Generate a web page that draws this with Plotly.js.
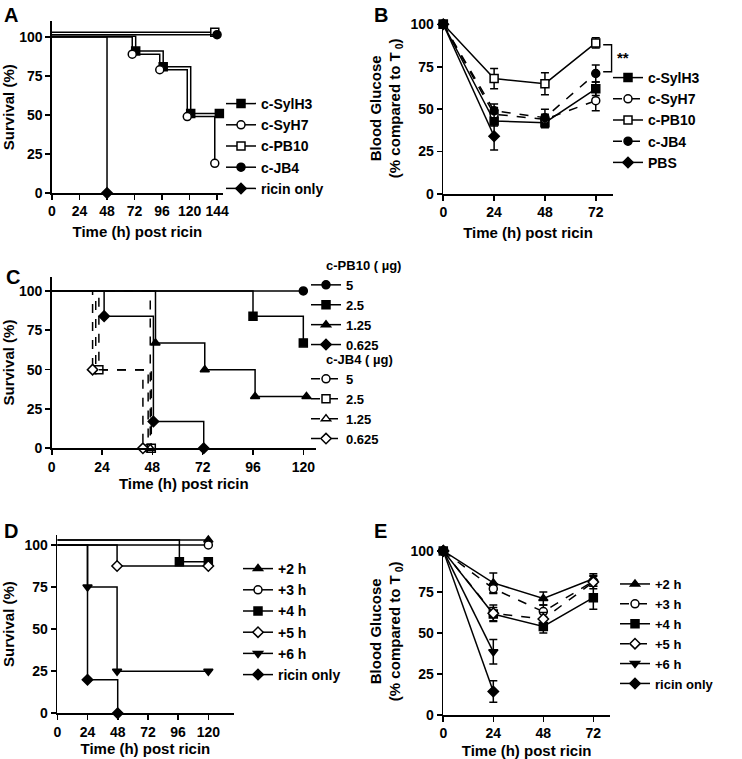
<!DOCTYPE html>
<html><head><meta charset="utf-8">
<script src="https://cdn.plot.ly/plotly-3.0.1.min.js"></script>
<style>html,body{margin:0;padding:0;background:#fff}#chart{width:742px;height:759px}</style>
</head><body><div id="chart"></div>
<script>
// ---------- Panel A: survival ----------
const A_SylH3_t = [0, 73, 97, 121, 146];
const A_SylH3_s = [100.5, 91, 81, 51, 51];
const A_SyH7_t = [0, 70, 94, 118, 142];
const A_SyH7_s = [100, 89, 79, 49, 19];
const A_PB10_t = [0, 142];
const A_PB10_s = [103, 103];
const A_JB4_t = [0, 144];
const A_JB4_s = [101.5, 101.5];
const A_ricin_t = [0, 48];
const A_ricin_s = [100, 0];

// ---------- Panel B: blood glucose ----------
const B_t = [0, 24, 48, 72];
const B_PBS_t = [0, 24];
const B_SylH3 = [100, 43, 42, 62];   const B_SylH3_err = [0, 3, 3, 4];
const B_SyH7 = [100, 47, 44, 55];    const B_SyH7_err = [0, 4, 3, 6];
const B_PB10 = [100, 68, 65, 89];    const B_PB10_err = [0, 6, 6.5, 3];
const B_JB4 = [100, 49, 45, 71];     const B_JB4_err = [0, 4, 5, 5];
const B_PBS = [100, 34];             const B_PBS_err = [0, 8];

// ---------- Panel C: dose survival ----------
const C_PB10_5_t = [0, 120];            const C_PB10_5_s = [100, 100];
const C_PB10_25_t = [0, 96, 120];       const C_PB10_25_s = [100, 84, 67];
const C_PB10_125_t = [0, 49.5, 73, 97, 121.5]; const C_PB10_125_s = [100, 67, 50, 33, 33];
const C_PB10_0625_t = [0, 25, 48.5, 72.5];     const C_PB10_0625_s = [100, 84, 17, 0];
const C_JB4_5_t = [0, 21, 46];          const C_JB4_5_s = [100, 50, 0];
const C_JB4_25_t = [0, 22.5, 47.5];     const C_JB4_25_s = [100, 50, 0];
const C_JB4_125_t = [0, 47];            const C_JB4_125_s = [100, 0];
const C_JB4_0625_t = [0, 19.5, 43.5];   const C_JB4_0625_s = [100, 50, 0];

// ---------- Panel D: time-of-treatment survival ----------
const D_2h_t = [0, 120];           const D_2h_s = [103, 103];
const D_3h_t = [0, 120];           const D_3h_s = [100, 100];
const D_4h_t = [0, 97, 120];       const D_4h_s = [103, 90, 90];
const D_5h_t = [0, 47.5, 120];     const D_5h_s = [100, 87.5, 87.5];
const D_6h_t = [0, 24, 47.5, 120]; const D_6h_s = [100, 75, 25, 25];
const D_ricin_t = [0, 24, 48];     const D_ricin_s = [100, 20, 0];

// ---------- Panel E: time-of-treatment glucose ----------
const E_t = [0, 24, 48, 72];
const E_short_t = [0, 24];
const E_2h = [100, 80.5, 71, 83];   const E_2h_err = [0, 6, 4, 3];
const E_3h = [100, 77, 63, 81.5];   const E_3h_err = [0, 3, 4, 3];
const E_4h = [100, 61.5, 54, 71.5]; const E_4h_err = [0, 4, 4, 7];
const E_5h = [100, 62, 58.5, 81];   const E_5h_err = [0, 5, 4, 4];
const E_6h = [100, 38.5];           const E_6h_err = [0, 7.5];
const E_ricin = [100, 14.3];        const E_ricin_err = [0, 6.5];

// significance bracket (panel B)
const B_brk_x = [75.5, 79.5];
const B_brk_y = [72, 88];

// ---------- helpers ----------
const W = 742, H = 759;
const fx = px => px / W;
const fy = py => 1 - py / H;
const FONT = 'Liberation Sans, Arial, sans-serif';
const NB = '\u00a0';

function mk(symbol, open, size) {
  return {symbol: symbol, size: size || 8, color: open ? 'white' : 'black',
          line: {color: 'black', width: 1.5}};
}
function surv(name, t, s, ax, lg, symbol, open, dash) {
  const sel = [];
  for (let i = 1; i < t.length; i++) sel.push(i);
  return {
    x: t, y: s, name: name, xaxis: 'x' + ax, yaxis: 'y' + ax, legend: lg,
    mode: 'lines+markers', cliponaxis: false,
    line: {shape: 'hv', color: 'black', width: 1.5, dash: dash || 'solid'},
    marker: mk(symbol, open),
    selectedpoints: sel, unselected: {marker: {opacity: 0}},
    hoverinfo: 'skip'
  };
}
function gluc(name, t, v, e, ax, lg, symbol, open, dash) {
  return {
    x: t, y: v, name: name, xaxis: 'x' + ax, yaxis: 'y' + ax, legend: lg,
    mode: 'lines+markers', cliponaxis: false,
    line: {color: 'black', width: 1.5, dash: dash || 'solid'},
    marker: mk(symbol, open),
    error_y: {type: 'data', array: e, visible: true, color: 'black', thickness: 1.5, width: 4},
    hoverinfo: 'skip'
  };
}
function axis(d0, d1, range, dtick, anchor, title, standoff) {
  return {
    domain: [d0, d1], range: range, dtick: dtick, tick0: 0, anchor: anchor,
    showline: true, linecolor: 'black', linewidth: 1.6,
    ticks: 'outside', ticklen: 5, tickwidth: 1.6, tickcolor: 'black',
    showgrid: false, zeroline: false, fixedrange: true, automargin: false,
    tickfont: {family: FONT, size: 14, weight: 'bold', color: 'black'},
    title: {text: title, standoff: standoff, font: {family: FONT, size: 15, weight: 'bold', color: 'black'}}
  };
}
function legend(px, py, fs, title) {
  const lg = {x: fx(px), y: fy(py), xanchor: 'left', yanchor: 'top', bgcolor: 'rgba(0,0,0,0)',
          font: {family: FONT, size: fs || 14, weight: 'bold', color: 'black'},
          itemwidth: 30, tracegroupgap: 0, traceorder: 'normal', itemclick: false, itemdoubleclick: false};
  if (title) lg.title = {text: title, side: 'top', font: {family: FONT, size: fs, weight: 'bold', color: 'black'}};
  return lg;
}

const PBT = NB + NB + NB + NB + NB + 'c-PB10 ( µg)';
const JBT = NB + NB + NB + NB + NB + 'c-JB4 ( µg)';
const traces = [
  // A
  surv('c-SylH3', A_SylH3_t, A_SylH3_s, '', 'legend', 'square', false),
  surv('c-SyH7', A_SyH7_t, A_SyH7_s, '', 'legend', 'circle', true),
  surv('c-PB10', A_PB10_t, A_PB10_s, '', 'legend', 'square', true),
  surv('c-JB4', A_JB4_t, A_JB4_s, '', 'legend', 'circle', false),
  surv('ricin only', A_ricin_t, A_ricin_s, '', 'legend', 'diamond', false),
  // B
  gluc('c-SylH3', B_t, B_SylH3, B_SylH3_err, '2', 'legend2', 'square', false),
  gluc('c-SyH7', B_t, B_SyH7, B_SyH7_err, '2', 'legend2', 'circle', true, 'dash'),
  gluc('c-PB10', B_t, B_PB10, B_PB10_err, '2', 'legend2', 'square', true),
  gluc('c-JB4', B_t, B_JB4, B_JB4_err, '2', 'legend2', 'circle', false, 'dash'),
  gluc('PBS', B_PBS_t, B_PBS, B_PBS_err, '2', 'legend2', 'diamond', false),
  // C
  surv('5', C_PB10_5_t, C_PB10_5_s, '3', 'legend3', 'circle', false, 'solid'),
  surv('2.5', C_PB10_25_t, C_PB10_25_s, '3', 'legend3', 'square', false, 'solid'),
  surv('1.25', C_PB10_125_t, C_PB10_125_s, '3', 'legend3', 'triangle-up', false, 'solid'),
  surv('0.625', C_PB10_0625_t, C_PB10_0625_s, '3', 'legend3', 'diamond', false, 'solid'),
  surv('5', C_JB4_5_t, C_JB4_5_s, '3', 'legend6', 'circle', true, 'dash'),
  surv('2.5', C_JB4_25_t, C_JB4_25_s, '3', 'legend6', 'square', true, 'dash'),
  surv('1.25', C_JB4_125_t, C_JB4_125_s, '3', 'legend6', 'triangle-up', true, 'dash'),
  surv('0.625', C_JB4_0625_t, C_JB4_0625_s, '3', 'legend6', 'diamond', true, 'dash'),
  // D
  surv('+2 h', D_2h_t, D_2h_s, '4', 'legend4', 'triangle-up', false),
  surv('+3 h', D_3h_t, D_3h_s, '4', 'legend4', 'circle', true),
  surv('+4 h', D_4h_t, D_4h_s, '4', 'legend4', 'square', false),
  surv('+5 h', D_5h_t, D_5h_s, '4', 'legend4', 'diamond', true),
  surv('+6 h', D_6h_t, D_6h_s, '4', 'legend4', 'triangle-down', false),
  surv('ricin only', D_ricin_t, D_ricin_s, '4', 'legend4', 'diamond', false),
  // E
  gluc('+2 h', E_t, E_2h, E_2h_err, '5', 'legend5', 'triangle-up', false),
  gluc('+3 h', E_t, E_3h, E_3h_err, '5', 'legend5', 'circle', true, 'dash'),
  gluc('+4 h', E_t, E_4h, E_4h_err, '5', 'legend5', 'square', false),
  gluc('+5 h', E_t, E_5h, E_5h_err, '5', 'legend5', 'diamond', true, 'dash'),
  gluc('+6 h', E_short_t, E_6h, E_6h_err, '5', 'legend5', 'triangle-down', false),
  gluc('ricin only', E_short_t, E_ricin, E_ricin_err, '5', 'legend5', 'diamond', false)
];

const XT = 'Time (h) post ricin';
const GT = 'Blood Glucose<br>(% compared to T<sub> 0</sub>)';
const layout = {
  width: W, height: H, margin: {l: 0, r: 0, t: 0, b: 0},
  paper_bgcolor: 'white', plot_bgcolor: 'white', showlegend: true,
  font: {family: FONT, color: 'black'},
  xaxis:  axis(fx(52), fx(222.8), [0, 149], 24, 'y', XT, 8),
  yaxis:  axis(fy(193), fy(21.4), [0, 110], 25, 'x', 'Survival (%)', 6),
  xaxis2: axis(fx(443.3), fx(612.7), [0, 80], 24, 'y2', XT, 8),
  yaxis2: axis(fy(194), fy(22.6), [0, 101], 25, 'x2', GT, 6),
  xaxis3: axis(fx(51.7), fx(315.9), [0, 126], 24, 'y3', XT, 5),
  yaxis3: axis(fy(448.3), fy(276.8), [0, 109], 25, 'x3', 'Survival (%)', 6),
  xaxis4: axis(fx(57.3), fx(233.5), [0, 140], 24, 'y4', XT, 5),
  yaxis4: axis(fy(713.3), fy(534.9), [0, 106], 25, 'x4', 'Survival (%)', 6),
  xaxis5: axis(fx(443.3), fx(610), [0, 80], 24, 'y5', XT, 5),
  yaxis5: axis(fy(715), fy(547.6), [0, 102], 25, 'x5', GT, 6),
  legend:  legend(221, 88, 14),
  legend2: legend(608, 62, 14),
  legend3: legend(306, 253, 13, PBT),
  legend6: legend(306, 347, 13, JBT),
  legend4: legend(238, 553, 14),
  legend5: legend(615, 569, 13),
  shapes: [{type: 'path', xref: 'x2', yref: 'y2',
            path: 'M' + B_brk_x[0] + ',' + B_brk_y[1] + ' L' + B_brk_x[1] + ',' + B_brk_y[1] +
                  ' L' + B_brk_x[1] + ',' + B_brk_y[0] + ' L' + B_brk_x[0] + ',' + B_brk_y[0],
            line: {color: 'black', width: 1.5}}],
  annotations: [
    {text: '**', xref: 'paper', yref: 'paper', x: fx(615), y: fy(57), xanchor: 'left', yanchor: 'middle', showarrow: false, font: {family: FONT, size: 15, weight: 'bold'}},
    {text: 'A', xref: 'paper', yref: 'paper', x: fx(2), y: fy(2), xanchor: 'left', yanchor: 'top', showarrow: false, font: {family: FONT, size: 20, weight: 'bold'}},
    {text: 'B', xref: 'paper', yref: 'paper', x: fx(372), y: fy(2), xanchor: 'left', yanchor: 'top', showarrow: false, font: {family: FONT, size: 20, weight: 'bold'}},
    {text: 'C', xref: 'paper', yref: 'paper', x: fx(4), y: fy(264), xanchor: 'left', yanchor: 'top', showarrow: false, font: {family: FONT, size: 20, weight: 'bold'}},
    {text: 'D', xref: 'paper', yref: 'paper', x: fx(2), y: fy(518), xanchor: 'left', yanchor: 'top', showarrow: false, font: {family: FONT, size: 20, weight: 'bold'}},
    {text: 'E', xref: 'paper', yref: 'paper', x: fx(372), y: fy(518), xanchor: 'left', yanchor: 'top', showarrow: false, font: {family: FONT, size: 20, weight: 'bold'}}
  ]
};
Plotly.newPlot('chart', traces, layout, {staticPlot: true, displayModeBar: false});
</script>
</body></html>
